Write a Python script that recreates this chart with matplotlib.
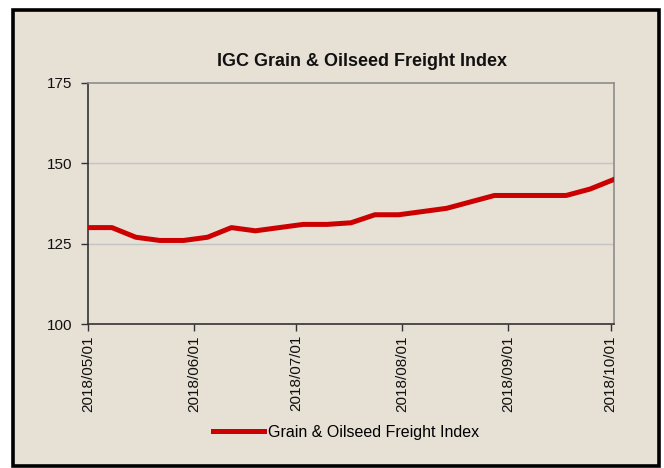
import matplotlib
matplotlib.use("Agg")
import matplotlib.pyplot as plt
import matplotlib.dates as mdates
from matplotlib.patches import Rectangle
import pandas as pd

# Données (indice hebdomadaire)
dates = ["2018-05-01", "2018-05-08", "2018-05-15", "2018-05-22", "2018-05-29",
         "2018-06-05", "2018-06-12", "2018-06-19", "2018-06-26", "2018-07-03",
         "2018-07-10", "2018-07-17", "2018-07-24", "2018-07-31", "2018-08-07",
         "2018-08-14", "2018-08-21", "2018-08-28", "2018-09-04", "2018-09-11",
         "2018-09-18", "2018-09-25", "2018-10-02"]
valeurs = [130, 130, 127, 126, 126, 127, 130, 129, 130, 131, 131, 131.5,
           134, 134, 135, 136, 138, 140, 140, 140, 140, 142, 145]
graduations_y = [100, 125, 150, 175]
graduations_x = ["2018-05-01", "2018-06-01", "2018-07-01", "2018-08-01",
                 "2018-09-01", "2018-10-01"]
titre = "IGC Grain & Oilseed Freight Index"
nom_serie = "Grain & Oilseed Freight Index"

plt.rcParams['font.family'] = ['Liberation Sans', 'DejaVu Sans']

fond = '#e6e0d5'
fig = plt.figure(figsize=(6.64, 4.68), dpi=100)
fig.patch.set_facecolor('white')

# Cadre noir autour du graphique (derrière les axes)
cadre = Rectangle((13 / 664, 1 - 466 / 468), 646 / 664, 456 / 468,
                  transform=fig.transFigure, facecolor=fond,
                  edgecolor='black', linewidth=2.6, zorder=-1)
fig.patches.append(cadre)

ax = fig.add_axes([88 / 664, 1 - 324 / 468, 526 / 664, 241 / 468])
ax.set_facecolor(fond)
ax.set_zorder(1)

x = pd.to_datetime(dates)
ax.plot(x, valeurs, color='#cc0000', linewidth=3.6,
        solid_joinstyle='round', label=nom_serie, zorder=3)

ax.set_ylim(100, 175)
ax.set_yticks(graduations_y)
ax.set_xlim(pd.Timestamp("2018-05-01"), pd.Timestamp("2018-10-02"))
ax.set_xticks(pd.to_datetime(graduations_x))
ax.xaxis.set_major_formatter(mdates.DateFormatter("%Y/%m/%d"))

for y in [125, 150]:
    ax.axhline(y, color='#c4c4c4', linewidth=1.0, zorder=1)

for cote in ['left', 'bottom']:
    ax.spines[cote].set_color('#333333')
    ax.spines[cote].set_linewidth(1.2)
for cote in ['top', 'right']:
    ax.spines[cote].set_color('#8c8c8c')
    ax.spines[cote].set_linewidth(1.2)

ax.tick_params(axis='y', direction='out', length=5, width=1,
               colors='#333333', labelsize=11, pad=6, labelcolor='#111111')
ax.tick_params(axis='x', direction='out', length=5, width=1,
               colors='#333333', labelsize=11, pad=3, labelcolor='#111111',
               labelrotation=90)

fig.text(362 / 664, 1 - 61 / 468, titre, ha='center', va='center',
         fontsize=13, fontweight='bold', color='#111111')

leg = fig.legend(loc='center', bbox_to_anchor=(346 / 664, 1 - 432 / 468),
                 frameon=False, fontsize=11.5, handlelength=3.2,
                 handletextpad=0.2)

fig.savefig("out.png", dpi=100, facecolor=fig.get_facecolor())
